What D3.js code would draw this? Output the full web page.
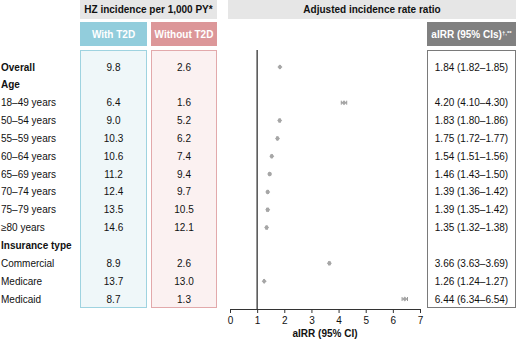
<!DOCTYPE html>
<html>
<head>
<meta charset="utf-8">
<script src="https://cdn.jsdelivr.net/npm/d3@7"></script>
<style>
  body { margin: 0; background: #fff; }
  svg { font-family: "Liberation Sans", Arial, sans-serif; }
</style>
</head>
<body>
<svg id="chart"></svg>
<script>
const rowLabels = ["Overall", "Age", "18–49 years", "50–54 years", "55–59 years", "60–64 years",
  "65–69 years", "70–74 years", "75–79 years", "≥80 years", "Insurance type",
  "Commercial", "Medicare", "Medicaid"]
const boldRows = ["Overall", "Age", "Insurance type"]
const withT2D = ["9.8", "", "6.4", "9.0", "10.3", "10.6", "11.2", "12.4", "13.5", "14.6", "", "8.9", "13.7", "8.7"]
const withoutT2D = ["2.6", "", "1.6", "5.2", "6.2", "7.4", "9.4", "9.7", "10.5", "12.1", "", "2.6", "13.0", "1.3"]
const airr = [1.84, null, 4.20, 1.83, 1.75, 1.54, 1.46, 1.39, 1.39, 1.35, null, 3.66, 1.26, 6.44]
const ciLow = [1.82, null, 4.10, 1.80, 1.72, 1.51, 1.43, 1.36, 1.35, 1.32, null, 3.63, 1.24, 6.34]
const ciHigh = [1.85, null, 4.30, 1.86, 1.77, 1.56, 1.50, 1.42, 1.42, 1.38, null, 3.69, 1.27, 6.54]
const xTicks = [0, 1, 2, 3, 4, 5, 6, 7]

const width = 520, height = 341
const svg = d3.select("#chart").attr("width", width).attr("height", height)

const y = d3.scalePoint().domain(d3.range(rowLabels.length)).range([67, 299])
const x = d3.scaleLinear().domain([0, 7]).range([230, 420])
const fs = 10
const fmt = d3.format(".2f")

// header bars
const header = (x0, x1, y0, y1, fill, text, color) => {
  svg.append("rect").attr("x", x0).attr("y", y0).attr("width", x1 - x0).attr("height", y1 - y0)
    .attr("fill", fill)
  svg.append("text").attr("x", (x0 + x1) / 2).attr("y", (y0 + y1) / 2 + 3.5)
    .attr("text-anchor", "middle").attr("font-weight", "bold").attr("font-size", fs)
    .attr("fill", color).text(text)
}
header(80, 217, 0, 19, "#e6e6e6", "HZ incidence per 1,000 PY*", "#111")
header(228, 516, 0, 19, "#e6e6e6", "Adjusted incidence rate ratio", "#111")
header(80, 147, 22, 46, "#92cddc", "With T2D", "#fff")
header(151, 217, 22, 46, "#dc9799", "Without T2D", "#fff")
header(427, 516, 22, 46, "#808080", "", "#fff")
svg.append("text").attr("x", 471.5).attr("y", 37.5).attr("text-anchor", "middle")
  .attr("font-weight", "bold").attr("font-size", fs).attr("fill", "#fff")
  .text("aIRR (95% CIs)").append("tspan").attr("font-size", 6).attr("dy", -3).text("†,**")

// body boxes
const box = (x0, x1, fill, stroke) => svg.append("rect").attr("x", x0 + 0.5).attr("y", 50.5)
  .attr("width", x1 - x0 - 1).attr("height", 257).attr("fill", fill).attr("stroke", stroke)
box(80, 147, "#eff7f9", "#9fd3e0")
box(151, 217, "#fbf1f1", "#e2a9ab")
box(427, 516, "#fff", "#7a7a7a")

// row labels
svg.append("g").selectAll("text").data(rowLabels).join("text")
  .attr("x", 1).attr("y", (d, i) => y(i) + 3.5).attr("font-size", fs)
  .attr("font-weight", d => boldRows.includes(d) ? "bold" : "normal").attr("fill", "#111")
  .text(d => d)

const colText = (vals, cx) => svg.append("g").selectAll("text").data(vals).join("text")
  .attr("x", cx).attr("y", (d, i) => y(i) + 3.5).attr("text-anchor", "middle")
  .attr("font-size", fs).attr("fill", "#111").text(d => d)
colText(withT2D, 113.5)
colText(withoutT2D, 184)
colText(airr.map((d, i) => d == null ? "" : `${fmt(d)} (${fmt(ciLow[i])}–${fmt(ciHigh[i])})`), 471.5)

// axis
const axisY = 309
const axis = svg.append("g").attr("transform", `translate(0,${axisY})`)
  .call(d3.axisBottom(x).tickValues(xTicks).tickFormat(d3.format("d"))
    .tickSize(4).tickSizeOuter(0).tickPadding(4))
axis.select(".domain").attr("stroke", "#333").attr("stroke-width", 1.2)
axis.selectAll(".tick line").attr("stroke", "#333")
axis.selectAll("text").attr("font-size", fs).attr("font-family", "Liberation Sans, Arial, sans-serif")
  .attr("fill", "#111")
svg.append("text").attr("x", x(3.5)).attr("y", 337).attr("text-anchor", "middle")
  .attr("font-weight", "bold").attr("font-size", fs).attr("fill", "#111").text("aIRR (95% CI)")

// reference line at 1
svg.append("line").attr("x1", x(1)).attr("x2", x(1)).attr("y1", 50).attr("y2", axisY)
  .attr("stroke", "#333").attr("stroke-width", 1.3)

// CIs and points
const pts = airr.map((d, i) => ({ v: d, lo: ciLow[i], hi: ciHigh[i], i })).filter(d => d.v != null)
const g = svg.append("g")
g.selectAll("line.ci").data(pts).join("line").attr("class", "ci")
  .attr("x1", d => x(d.lo)).attr("x2", d => x(d.hi)).attr("y1", d => y(d.i)).attr("y2", d => y(d.i))
  .attr("stroke", "#999").attr("stroke-width", 1)
g.selectAll("line.capl").data(pts).join("line").attr("class", "capl")
  .attr("x1", d => x(d.lo)).attr("x2", d => x(d.lo)).attr("y1", d => y(d.i) - 2).attr("y2", d => y(d.i) + 2)
  .attr("stroke", "#999")
g.selectAll("line.caph").data(pts).join("line").attr("class", "caph")
  .attr("x1", d => x(d.hi)).attr("x2", d => x(d.hi)).attr("y1", d => y(d.i) - 2).attr("y2", d => y(d.i) + 2)
  .attr("stroke", "#999")
g.selectAll("path").data(pts).join("path")
  .attr("transform", d => `translate(${x(d.v)},${y(d.i)})`)
  .attr("d", d3.symbol(d3.symbolDiamond2, 16))
  .attr("fill", "#a6a6a6")
</script>
</body>
</html>
